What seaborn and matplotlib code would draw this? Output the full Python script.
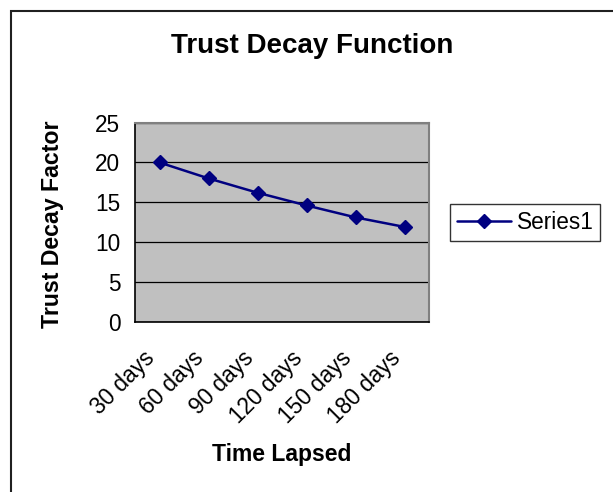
import matplotlib
matplotlib.use("Agg")
import matplotlib.pyplot as plt
import matplotlib.transforms as mtransforms
import seaborn as sns
import pandas as pd
from matplotlib.patches import Rectangle
from matplotlib.lines import Line2D

periods = ["30 days", "60 days", "90 days", "120 days", "150 days", "180 days"]
factor = [20, 18, 16.2, 14.6, 13.1, 11.9]
series_name = "Series1"

sns.set_style("white")
plt.rcParams['font.family'] = ['Liberation Sans', 'DejaVu Sans']
plt.rcParams.update({"text.color": "black", "axes.labelcolor": "black",
                     "xtick.color": "black", "ytick.color": "black"})

W, H = 613, 492
fig = plt.figure(figsize=(W / 100, H / 100), dpi=100)
ax = fig.add_axes([135 / W, 1 - 321.7 / H, (429.3 - 135) / W, (321.7 - 122.7) / H])
ax.set_facecolor("#C0C0C0")

df = pd.DataFrame({"period": pd.Categorical(periods, categories=periods, ordered=True),
                   "factor": factor})
sns.lineplot(data=df, x="period", y="factor", ax=ax, color="#000080", linewidth=1.8,
             marker="D", markersize=7.5, markeredgecolor="#000080", markeredgewidth=1,
             sort=False, zorder=5)

ax.set_xlim(-0.5, len(periods) - 0.5)
ax.set_ylim(0, 25)
ax.set_yticks([0, 5, 10, 15, 20, 25])
ax.yaxis.grid(True, color="black", linewidth=0.9)
ax.set_axisbelow(True)

# category boundary ticks
ax.set_xticks([i - 0.5 for i in range(len(periods) + 1)], minor=True)
ax.set_xticks(range(len(periods)))
ax.set_xticklabels(periods, rotation=45, ha="right", va="center",
                   rotation_mode="anchor", fontsize=16.3)
ax.tick_params(axis="x", which="major", length=0, pad=24)
ax.tick_params(axis="x", which="minor", length=5, width=1, color="black", direction="out")
ax.tick_params(axis="y", length=5.5, width=1, color="black", direction="out",
               labelsize=16.3, pad=5)
shift = mtransforms.ScaledTranslation(-8 / 100, 0, fig.dpi_scale_trans)
for lab in ax.get_xticklabels():
    lab.set_transform(lab.get_transform() + shift)

for s in ["top", "right"]:
    ax.spines[s].set_color("#808080")
    ax.spines[s].set_linewidth(1.5)
for s in ["left", "bottom"]:
    ax.spines[s].set_color("black")
    ax.spines[s].set_linewidth(1.2)

ax.set_xlabel("")
ax.set_ylabel("")
fig.text(282 / W, 1 - 454 / H, "Time Lapsed", ha="center", va="center",
         fontsize=16.5, fontweight="bold")
fig.text(53 / W, 1 - 224 / H, "Trust Decay Factor", ha="center", va="center",
         rotation=90, fontsize=16.7, fontweight="bold")
fig.text(312 / W, 1 - 46 / H, "Trust Decay Function", ha="center", va="center",
         fontsize=20, fontweight="bold")

handle = Line2D([], [], color="#000080", linewidth=1.8, marker="D", markersize=7.5)
leg = fig.legend([handle], [series_name], loc="upper left",
                 bbox_to_anchor=(450 / W, 1 - 204 / H), fontsize=16.3,
                 frameon=True, fancybox=False, borderpad=0.3, handlelength=2.4,
                 handletextpad=0.25, borderaxespad=0)
leg.get_frame().set_edgecolor("black")
leg.get_frame().set_linewidth(1.0)

fig.patches.append(Rectangle((11 / W, -0.1), 1.2, 1 - 11 / H + 0.1, transform=fig.transFigure,
                             fill=False, edgecolor="#202020", linewidth=1.5))

fig.savefig("out.png", dpi=100)
